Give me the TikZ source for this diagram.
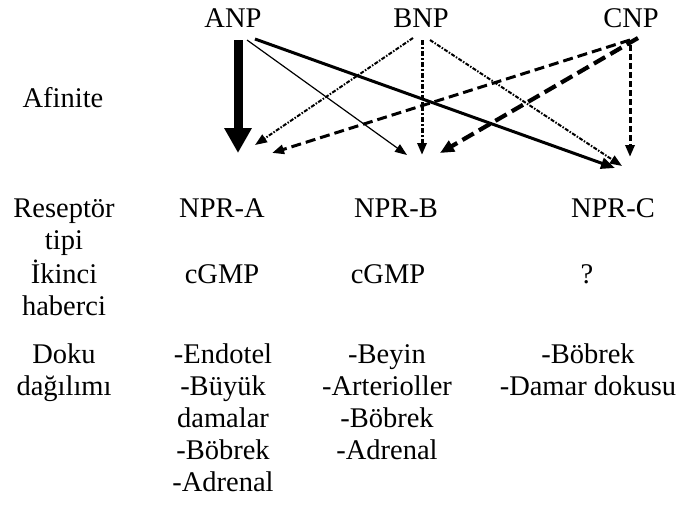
\documentclass[tikz,border=0pt]{standalone}
\usepackage{fontspec}
\setmainfont{Liberation Serif}
\usetikzlibrary{arrows.meta}
\begin{document}
\begin{tikzpicture}[x=1pt,y=-1pt,
  lbl/.style={font=\fontsize{28.5}{32}\selectfont, inner sep=0pt, align=center, anchor=base},
  arr/.style={line cap=butt, -{Triangle[length=12pt,width=9pt]}},
  bigarr/.style={line width=9pt, -{Triangle[length=25pt,width=26pt]}},
  thinarr/.style={arr, line width=1.2pt},
  solidarr/.style={arr, line width=3pt, -{Triangle[length=14pt,width=11pt]}},
  wavyarr/.style={arr, line width=2pt, dash pattern=on 4pt off 1.5pt on 1.5pt off 1.5pt},
  dotdasharr/.style={arr, line width=3pt, dash pattern=on 5pt off 2pt on 2pt off 2pt},
  dasharrA/.style={arr, line width=3pt, dash pattern=on 10pt off 5pt},
  dasharrB/.style={arr, line width=4.2pt, dash pattern=on 13pt off 6pt, -{Triangle[length=14pt,width=12pt]}},
  dasharrC/.style={arr, line width=3pt, dash pattern=on 6pt off 3pt}]
\useasboundingbox (0,0) rectangle (682,507);
% labels (anchor = baseline of the last line)
\node[lbl] (anp) at (233,27) {ANP};
\node[lbl] (bnp) at (421,27) {BNP};
\node[lbl] (cnp) at (631,27) {CNP};
\node[lbl] (afin) at (63,107) {Afinite};
\node[lbl] (rtip) at (64,249) {Reseptör\\tipi};
\node[lbl] (npra) at (222,217) {NPR-A};
\node[lbl] (nprb) at (396,217) {NPR-B};
\node[lbl] (nprc) at (613,217) {NPR-C};
\node[lbl] (ikinci) at (64,315) {İkinci\\haberci};
\node[lbl] (cgmpa) at (222,283) {cGMP};
\node[lbl] (cgmpb) at (388,283) {cGMP};
\node[lbl] (soru) at (587,283) {?};
\node[lbl] (doku) at (64,395) {Doku\\dağılımı};
\node[lbl] (dokua) at (223,491) {-Endotel\\-Büyük\\damalar\\-Böbrek\\-Adrenal};
\node[lbl] (dokub) at (387,459) {-Beyin\\-Arterioller\\-Böbrek\\-Adrenal};
\node[lbl] (dokuc) at (588,395) {-Böbrek\\-Damar dokusu};
% arrow end points
\coordinate (anpS1) at (238,40);  \coordinate (aT1) at (238,153);
\coordinate (anpS2) at (247,40);  \coordinate (bT1) at (407,155);
\coordinate (anpS3) at (255,39);  \coordinate (cT1) at (615,168);
\coordinate (bnpS1) at (413,38);  \coordinate (aT2) at (255,145);
\coordinate (bnpS2) at (422,40);  \coordinate (bT2) at (422,155);
\coordinate (bnpS3) at (430,40);  \coordinate (cT2) at (622,166);
\coordinate (cnpS1) at (630,40);  \coordinate (aT3) at (272,153);
\coordinate (cnpS2) at (638,38);  \coordinate (bT3) at (440,153);
\coordinate (cnpS3) at (630,45);  \coordinate (cT3) at (630,157);
% arrows
\draw[bigarr] (anpS1) -- (aT1);
\draw[thinarr] (anpS2) -- (bT1);
\draw[solidarr] (anpS3) -- (cT1);
\draw[wavyarr] (bnpS1) -- (aT2);
\draw[dotdasharr] (bnpS2) -- (bT2);
\draw[wavyarr] (bnpS3) -- (cT2);
\draw[dasharrA] (cnpS1) -- (aT3);
\draw[dasharrB] (cnpS2) -- (bT3);
\draw[dasharrC] (cnpS3) -- (cT3);
\end{tikzpicture}
\end{document}
